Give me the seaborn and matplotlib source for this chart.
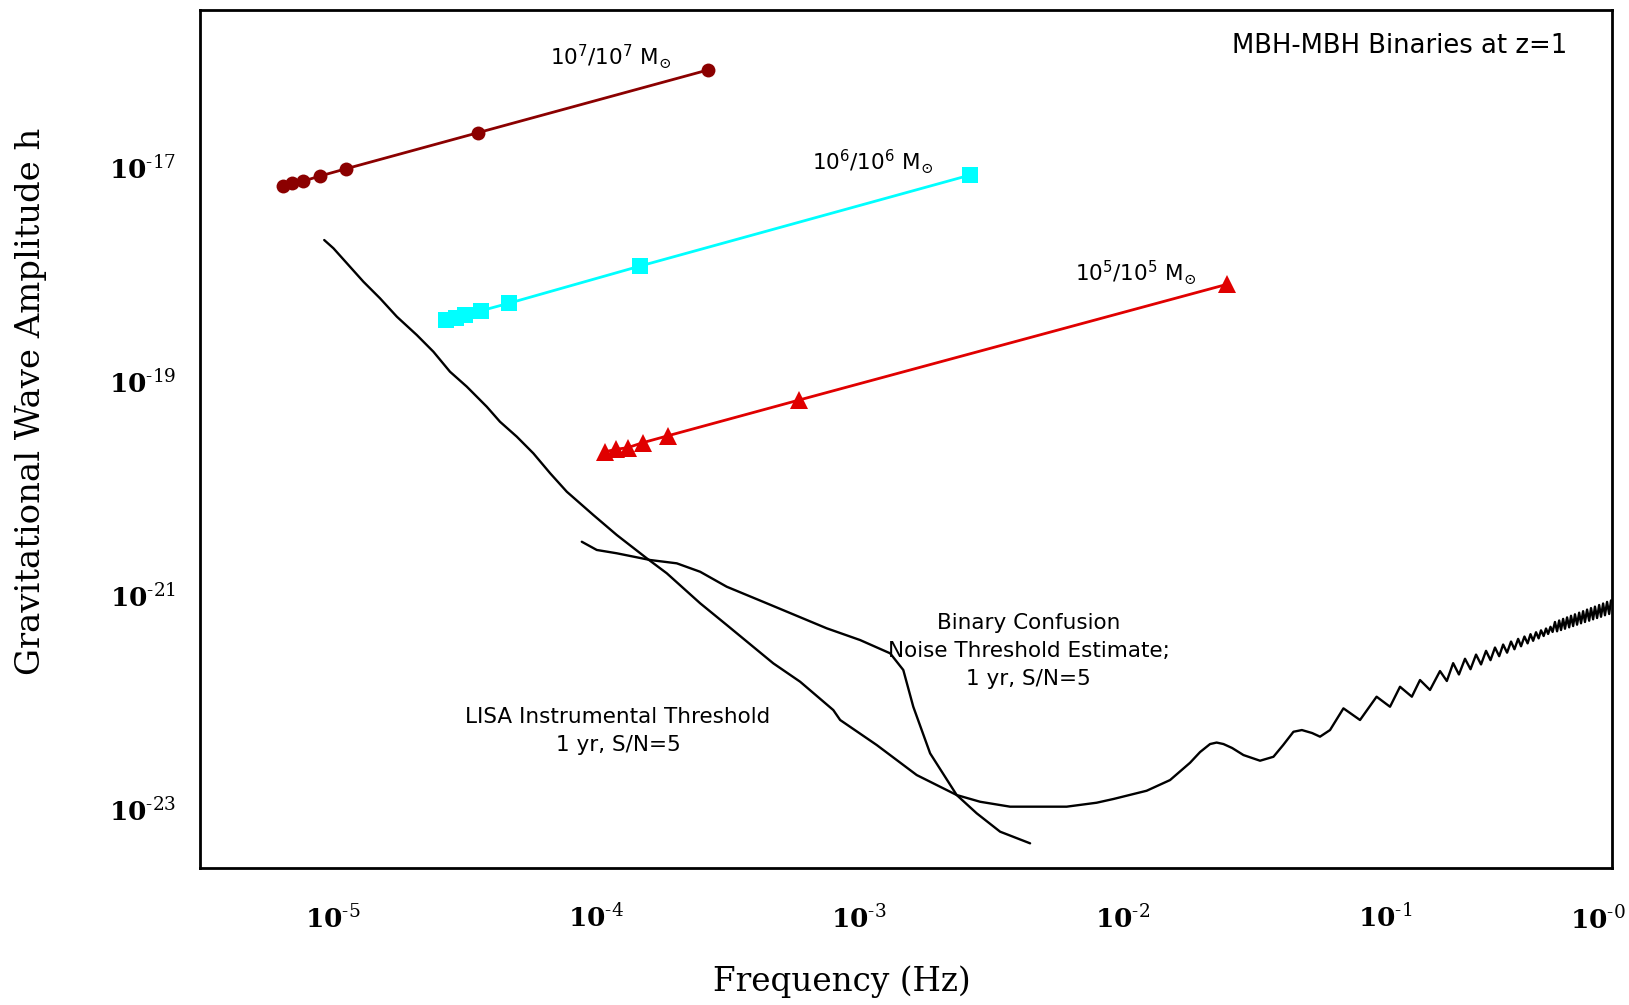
import numpy as np
import pandas as pd
import matplotlib
matplotlib.use("Agg")
import matplotlib.pyplot as plt
import seaborn as sns
from matplotlib.transforms import blended_transform_factory

# ---------------- data (log10 values) ----------------
# 10^7/10^7 Msun binary track
m7_log_f = [-5.188, -5.154, -5.112, -5.049, -4.950, -4.449, -3.575]
m7_log_h = [-17.162, -17.139, -17.118, -17.071, -17.003, -16.666, -16.079]

# 10^6/10^6 Msun binary track
m6_log_f = [-4.572, -4.534, -4.499, -4.436, -4.332, -3.832, -2.577]
m6_log_h = [-18.418, -18.397, -18.372, -18.331, -18.262, -17.913, -17.061]

# 10^5/10^5 Msun binary track
m5_log_f = [-3.964, -3.924, -3.880, -3.822, -3.726, -3.228, -1.601]
m5_log_h = [-19.651, -19.628, -19.613, -19.566, -19.501, -19.167, -18.084]

# LISA instrumental threshold (1 yr, S/N=5)
lisa_log_f = [
    -5.033, -4.998, -4.935, -4.884, -4.821, -4.757, -4.681, -4.618, -4.555, -4.491,
    -4.415, -4.365, -4.301, -4.238, -4.174, -4.111, -4.010, -3.921, -3.807, -3.731,
    -3.604, -3.503, -3.326, -3.224, -3.098, -3.072, -2.933, -2.781, -2.629, -2.540,
    -2.426, -2.211, -2.097, -2.033, -1.907, -1.818, -1.742, -1.704, -1.666, -1.641,
    -1.615, -1.582, -1.539, -1.476, -1.425, -1.388, -1.349, -1.317, -1.278, -1.248,
    -1.210, -1.159, -1.096, -1.033, -0.982, -0.944, -0.899, -0.868, -0.830, -0.792,
    -0.766, -0.742, -0.720, -0.697, -0.676, -0.655, -0.636, -0.617, -0.600, -0.583,
    -0.567, -0.552, -0.537, -0.522, -0.509, -0.495, -0.484, -0.471, -0.459, -0.448,
    -0.438, -0.427, -0.417, -0.408, -0.398, -0.389, -0.381, -0.372, -0.364, -0.355,
    -0.347, -0.339, -0.332, -0.324, -0.317, -0.309, -0.301, -0.294, -0.286, -0.279,
    -0.271, -0.263, -0.256, -0.248, -0.241, -0.233, -0.225, -0.218, -0.210, -0.203,
    -0.195, -0.187, -0.180, -0.172, -0.165, -0.157, -0.149, -0.142,
]
lisa_log_h = [
    -17.670, -17.747, -17.920, -18.060, -18.215, -18.387, -18.559, -18.715, -18.902, -19.042,
    -19.230, -19.370, -19.510, -19.666, -19.853, -20.025, -20.243, -20.430, -20.648, -20.788,
    -21.069, -21.272, -21.631, -21.803, -22.068, -22.161, -22.395, -22.676, -22.863, -22.926,
    -22.972, -22.972, -22.935, -22.900, -22.823, -22.723, -22.561, -22.461, -22.386, -22.372,
    -22.386, -22.423, -22.489, -22.542, -22.505, -22.395, -22.271, -22.255, -22.283, -22.317,
    -22.255, -22.052, -22.161, -21.943, -22.037, -21.850, -21.943, -21.787, -21.880, -21.703,
    -21.796, -21.629, -21.735, -21.588, -21.686, -21.549, -21.641, -21.514, -21.601, -21.483,
    -21.564, -21.455, -21.531, -21.427, -21.499, -21.402, -21.471, -21.380, -21.444, -21.358,
    -21.420, -21.340, -21.397, -21.322, -21.375, -21.305, -21.356, -21.289, -21.337, -21.244,
    -21.331, -21.230, -21.319, -21.215, -21.307, -21.201, -21.294, -21.186, -21.282, -21.172,
    -21.269, -21.157, -21.256, -21.143, -21.244, -21.128, -21.232, -21.114, -21.219, -21.100,
    -21.207, -21.085, -21.195, -21.071, -21.181, -21.056, -21.169, -21.042,
]

# Binary confusion noise threshold estimate (1 yr, S/N=5)
conf_log_f = [-4.054, -3.997, -3.921, -3.794, -3.693, -3.604, -3.503, -3.351, -3.199, -3.123,
              -2.996, -2.882, -2.832, -2.794, -2.730, -2.629, -2.553, -2.464, -2.350]
conf_log_h = [-20.493, -20.570, -20.601, -20.664, -20.695, -20.774, -20.914, -21.069, -21.225, -21.303,
              -21.413, -21.537, -21.693, -22.037, -22.473, -22.863, -23.034, -23.206, -23.315]

x_tick_exps = ["5", "4", "3", "2", "1"]
y_tick_exps = ["23", "22", "21", "20", "19", "18", "17", "16"]
y_labeled_exps = ["23", "21", "19", "17"]

title_text = "MBH-MBH Binaries at z=1"
m7_label = "10$^{\\mathsf{7}}$/10$^{\\mathsf{7}}$ M$_{\\odot}$"
m6_label = "10$^{\\mathsf{6}}$/10$^{\\mathsf{6}}$ M$_{\\odot}$"
m5_label = "10$^{\\mathsf{5}}$/10$^{\\mathsf{5}}$ M$_{\\odot}$"
lisa_label = "LISA Instrumental Threshold\n1 yr, S/N=5"
conf_label = "Binary Confusion\nNoise Threshold Estimate;\n1 yr, S/N=5"
x_title = "Frequency (Hz)"
y_title = "Gravitational Wave Amplitude h"

# ---------------- style ----------------
sns.set_style("white")
plt.rcParams["font.family"] = ["DejaVu Sans"]
plt.rcParams["mathtext.fontset"] = "dejavuserif"
plt.rcParams["text.color"] = "black"
plt.rcParams["axes.labelcolor"] = "black"


def frame(lf, lh):
    return pd.DataFrame({"f": np.power(10.0, lf), "h": np.power(10.0, lh)})


def tick_label(e):
    # "10" with a superscript hyphen + exponent, as in the original figure
    return r"$\mathbf{10}^{\text{-}%s}$" % e


fig = plt.figure(figsize=(16.29, 10.05), dpi=100)
ax = fig.add_axes([0.1228, 0.1363, 0.8668, 0.8537])
ax.set_xscale("log")
ax.set_yscale("log")
ax.set_xlim(10 ** -5.505, 10 ** -0.138)
ax.set_ylim(10 ** -23.546, 10 ** -15.518)

common = dict(ax=ax, estimator=None, sort=False, legend=False)
sns.lineplot(data=frame(lisa_log_f, lisa_log_h), x="f", y="h", color="black", linewidth=1.7, **common)
sns.lineplot(data=frame(conf_log_f, conf_log_h), x="f", y="h", color="black", linewidth=1.7, **common)
sns.lineplot(data=frame(m7_log_f, m7_log_h), x="f", y="h", color="#8B0000", linewidth=2.0,
             marker="o", markersize=10, markeredgewidth=0, **common)
sns.lineplot(data=frame(m6_log_f, m6_log_h), x="f", y="h", color="#00FFFF", linewidth=2.0,
             marker="s", markersize=11.5, markeredgewidth=0, **common)
sns.lineplot(data=frame(m5_log_f, m5_log_h), x="f", y="h", color="#E00000", linewidth=2.0,
             marker="^", markersize=12.5, markeredgewidth=0, **common)

# ---------------- axes / ticks ----------------
for s in ax.spines.values():
    s.set_visible(True)
    s.set_color("black")
    s.set_linewidth(2.0)

ax.set_xticks([10.0 ** -int(e) for e in x_tick_exps])
ax.set_xticklabels([tick_label(e) for e in x_tick_exps])
ax.set_yticks([10.0 ** -int(e) for e in y_tick_exps])
ax.set_yticklabels([tick_label(e) if e in y_labeled_exps else "" for e in y_tick_exps])
ax.minorticks_off()
ax.tick_params(axis="x", which="major", direction="in", length=11, width=1.5, color="black",
               pad=27, labelsize=19, labelcolor="black")
ax.tick_params(axis="y", which="major", direction="in", length=9.5, width=1.5, color="black",
               pad=17, labelsize=19, labelcolor="black")

trans = blended_transform_factory(ax.transAxes, ax.transAxes)
ax.text(0.990, -0.045, tick_label("0"), transform=trans, ha="center", va="top", fontsize=19)

ax.set_xlabel(x_title, fontfamily="DejaVu Serif", fontsize=23.5, va="center")
ax.xaxis.set_label_coords(0.4543, -0.1329)
ax.set_ylabel(y_title, fontfamily="DejaVu Serif", fontsize=24.4, va="center")
ax.yaxis.set_label_coords(-0.1197, 0.5443)

# ---------------- annotations ----------------
ax.text(0.7309, 0.9584, title_text, transform=ax.transAxes, ha="left", va="center", fontsize=18.6)
ax.text(0.2479, 0.9452, m7_label, transform=ax.transAxes, ha="left", va="center", fontsize=15.5)
ax.text(0.4334, 0.8228, m6_label, transform=ax.transAxes, ha="left", va="center", fontsize=15.5)
ax.text(0.6197, 0.6935, m5_label, transform=ax.transAxes, ha="left", va="center", fontsize=15.5)
ax.text(0.5868, 0.2525, conf_label, transform=ax.transAxes, ha="center", va="center",
        fontsize=15.5, linespacing=1.5, multialignment="center")
ax.text(0.2960, 0.1597, lisa_label, transform=ax.transAxes, ha="center", va="center",
        fontsize=15.5, linespacing=1.5, multialignment="center")

fig.savefig("out.png", dpi=100, facecolor="white")
